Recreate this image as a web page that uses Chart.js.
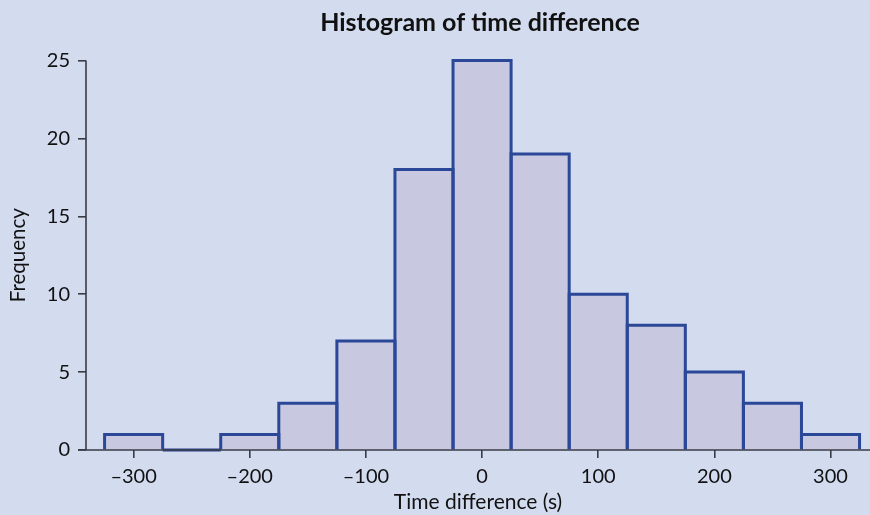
<!DOCTYPE html>
<html>
<head>
<meta charset="utf-8">
<script src="https://cdn.jsdelivr.net/npm/chart.js@4.4.1/dist/chart.umd.min.js"></script>
<style>
  html, body { margin: 0; padding: 0; background: #d3dbef; }
  #wrap { width: 870px; height: 515px; }
</style>
</head>
<body>
<div id="wrap"><canvas id="c" width="870" height="515"></canvas></div>
<script>
// Histogram bins: centre of each 50 s wide bin and its count
const binCenters = [-300, -250, -200, -150, -100, -50, 0, 50, 100, 150, 200, 250, 300];
const binCounts  = [1, 0, 1, 3, 7, 18, 25, 19, 10, 8, 5, 3, 1];
const xTickValues = [-300, -200, -100, 0, 100, 200, 300];
const yTickValues = [0, 5, 10, 15, 20, 25];
const chartTitle = 'Histogram of time difference';

const FONT = 'Lato, "Open Sans", sans-serif';
const AXIS = '#3a3b45';
const EDGE = '#2b4797';

// Outline each bar on its left, top and right edges so neighbouring bins share one stroke,
// then draw the axis lines on top and the title centred over the plot area.
const histogramOutline = {
  id: 'histogramOutline',
  afterDatasetsDraw(chart) {
    const ctx = chart.ctx;
    const ys = chart.scales.y;
    const meta = chart.getDatasetMeta(0);
    ctx.save();
    ctx.strokeStyle = EDGE;
    ctx.lineWidth = 3;
    ctx.lineJoin = 'miter';
    meta.data.forEach((bar) => {
      const p = bar.getProps(['x', 'y', 'width', 'base'], true);
      const l = p.x - p.width / 2, r = p.x + p.width / 2;
      ctx.beginPath();
      if (Math.abs(p.base - p.y) < 0.5) {
        ctx.moveTo(l, p.y); ctx.lineTo(r, p.y);
      } else {
        ctx.moveTo(l, p.base); ctx.lineTo(l, p.y); ctx.lineTo(r, p.y); ctx.lineTo(r, p.base);
      }
      ctx.stroke();
    });
    // axis lines
    ctx.strokeStyle = AXIS;
    ctx.lineWidth = 1.6;
    const y0 = ys.getPixelForValue(0);
    ctx.beginPath();
    ctx.moveTo(chart.chartArea.left - 8, y0);
    ctx.lineTo(chart.width, y0);
    ctx.moveTo(chart.chartArea.left, y0);
    ctx.lineTo(chart.chartArea.left, ys.getPixelForValue(25));
    ctx.stroke();
    // title
    ctx.fillStyle = '#111';
    ctx.font = 'bold 25px ' + FONT;
    ctx.textAlign = 'center';
    ctx.textBaseline = 'middle';
    ctx.fillText(chartTitle, (chart.chartArea.left + chart.chartArea.right) / 2 + 2, 23);
    ctx.restore();
  }
};

new Chart(document.getElementById('c'), {
  type: 'bar',
  data: {
    datasets: [{
      data: binCenters.map((x, i) => ({ x: x, y: binCounts[i] })),
      backgroundColor: '#c9c8e1',
      borderWidth: 0,
      barPercentage: 1,
      categoryPercentage: 1
    }]
  },
  options: {
    responsive: false,
    animation: false,
    layout: { padding: { left: 6, right: 0, top: 60.5, bottom: 0 } },
    plugins: {
      legend: { display: false },
      tooltip: { enabled: false },
      title: { display: false }
    },
    scales: {
      x: {
        type: 'linear',
        offset: false,
        min: -341,
        max: 334,
        afterBuildTicks: (s) => { s.ticks = xTickValues.map(v => ({ value: v })); },
        afterFit: (s) => { s.height = 65; },
        grid: { display: true, offset: false, drawOnChartArea: false, drawTicks: true, tickLength: 8, color: AXIS, lineWidth: 1.6 },
        border: { display: false },
        ticks: {
          color: '#111',
          font: { family: FONT, size: 20 },
          padding: 6.5,
          maxRotation: 0,
          callback: (v) => (v < 0 ? '\u2013' + Math.abs(v) : String(v))
        },
        title: {
          display: true,
          text: 'Time difference (s)',
          color: '#111',
          font: { family: FONT, size: 21 },
          padding: { top: 4, bottom: 0 }
        }
      },
      y: {
        min: 0,
        max: 25,
        afterBuildTicks: (s) => { s.ticks = yTickValues.map(v => ({ value: v })); },
        afterFit: (s) => { s.width = 80; },
        grid: { display: true, drawOnChartArea: false, drawTicks: true, tickLength: 8, color: AXIS, lineWidth: 1.6 },
        border: { display: false },
        ticks: {
          color: '#111',
          font: { family: FONT, size: 20 },
          padding: 8
        },
        title: {
          display: true,
          text: 'Frequency',
          color: '#111',
          font: { family: FONT, size: 20.5 },
          padding: { top: 0, bottom: 0 }
        }
      }
    }
  },
  plugins: [histogramOutline]
});
</script>
</body>
</html>
